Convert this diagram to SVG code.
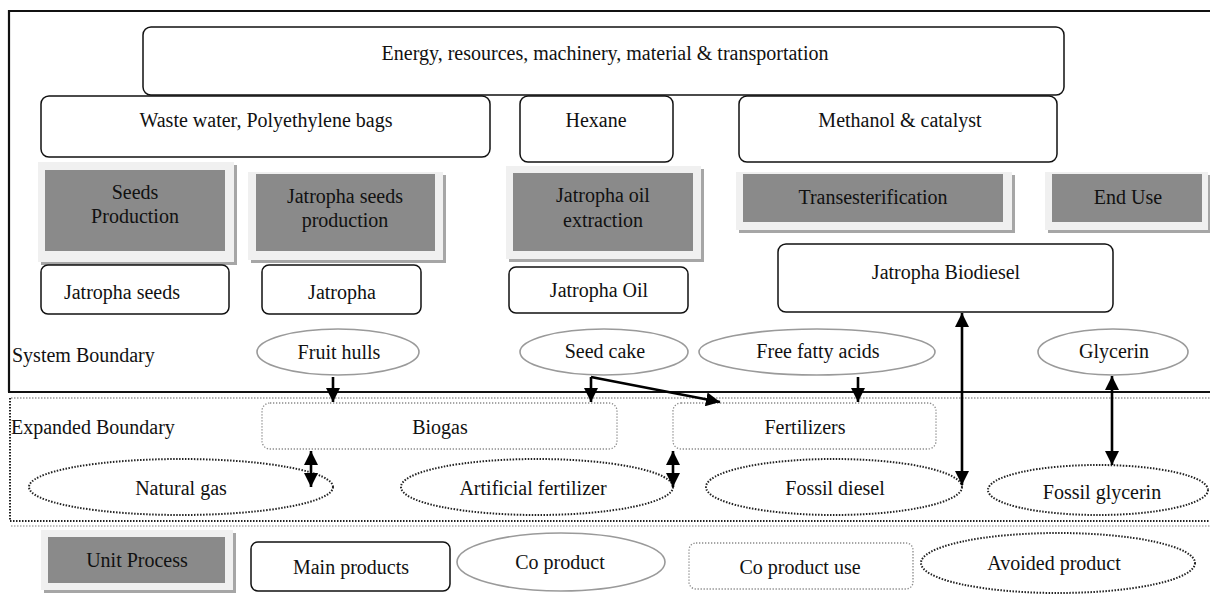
<svg xmlns="http://www.w3.org/2000/svg" width="1210" height="594" viewBox="0 0 1210 594">
<style>
text{font-family:"Liberation Serif","Times New Roman",serif;font-size:20px;fill:#111;text-anchor:middle;dominant-baseline:central}
.lt{text-anchor:start}
.box{fill:#fff;stroke:#111;stroke-width:1.5}
.sh{fill:#a6a6a6}
.fr{fill:#f0f0f0}
.up{fill:#8a8a8a}
.co{fill:#fff;stroke:#9a9a9a;stroke-width:1.6}
.cu{fill:none;stroke:#8a8a8a;stroke-width:1.3;stroke-dasharray:1.3 1.7}
.av{fill:none;stroke:#222;stroke-width:2;stroke-dasharray:1.5 1.5}
.bd{fill:none;stroke:#111;stroke-width:2.2}
.ar{fill:none;stroke:#000;stroke-width:2.6}
</style>
<defs>
<marker id="ah" markerUnits="userSpaceOnUse" markerWidth="14" markerHeight="14" viewBox="0 0 14 14" refX="14" refY="7" orient="auto-start-reverse">
<path d="M0,0 L14,7 L0,14 z" fill="#000"/>
</marker>
</defs>
<rect width="1210" height="594" fill="#fff"/>

<g id="boundaries">
<path class="bd" d="M9,392 V11 H1212"/>
<path class="bd" d="M8,392 H1212" stroke-width="2.6"/>
<path d="M11,398 H1212" fill="none" stroke="#999" stroke-width="1.6" stroke-dasharray="1.5 1.5"/>
<path d="M10,398 V521 H1212" fill="none" stroke="#222" stroke-width="2" stroke-dasharray="1.5 1.5"/>
<path d="M11,526 H1212" fill="none" stroke="#aaa" stroke-width="1.4" stroke-dasharray="1.5 1.5"/>
<text class="lt" x="12" y="355">System Boundary</text>
<text class="lt" x="11" y="427">Expanded Boundary</text>
</g>

<g id="energy"><rect class="box" x="143" y="27" width="921" height="68" rx="8"/><text x="605" y="53">Energy, resources, machinery, material &amp; transportation</text></g>
<g id="waste"><rect class="box" x="41" y="96" width="449" height="61" rx="8"/><text x="266" y="120">Waste water, Polyethylene bags</text></g>
<g id="hexane"><rect class="box" x="520" y="96" width="153" height="66" rx="8"/><text x="596" y="120">Hexane</text></g>
<g id="methanol"><rect class="box" x="739" y="96" width="318" height="66" rx="8"/><text x="900" y="120">Methanol &amp; catalyst</text></g>

<g id="seeds-production">
<rect class="sh" x="41" y="165" width="196" height="100"/><rect class="fr" x="38" y="162" width="196" height="100"/><rect class="up" x="45" y="170" width="180" height="81"/>
<text x="135" y="192">Seeds</text><text x="135" y="216">Production</text></g>
<g id="jatropha-seeds-production">
<rect class="sh" x="251" y="175" width="195" height="88"/><rect class="fr" x="248" y="172" width="195" height="88"/><rect class="up" x="256" y="174" width="179" height="77"/>
<text x="345" y="196">Jatropha seeds</text><text x="345" y="220">production</text></g>
<g id="oil-extraction">
<rect class="sh" x="509" y="169" width="195" height="93"/><rect class="fr" x="506" y="166" width="195" height="93"/><rect class="up" x="513" y="173" width="180" height="78"/>
<text x="603" y="195">Jatropha oil</text><text x="603" y="220">extraction</text></g>
<g id="transesterification">
<rect class="sh" x="739" y="175" width="276" height="58"/><rect class="fr" x="736" y="172" width="276" height="58"/><rect class="up" x="743" y="174" width="260" height="48"/>
<text x="873" y="197">Transesterification</text></g>
<g id="end-use">
<rect class="sh" x="1048" y="175" width="163" height="58"/><rect class="fr" x="1045" y="172" width="163" height="58"/><rect class="up" x="1052" y="174" width="150" height="48"/>
<text x="1128" y="197">End Use</text></g>

<g id="jatropha-seeds"><rect class="box" x="41" y="265" width="188" height="49" rx="7"/><text x="122" y="292">Jatropha seeds</text></g>
<g id="jatropha"><rect class="box" x="262" y="265" width="159" height="49" rx="7"/><text x="342" y="292">Jatropha</text></g>
<g id="jatropha-oil"><rect class="box" x="509" y="267" width="179" height="46" rx="7"/><text x="599" y="290">Jatropha Oil</text></g>
<g id="jatropha-biodiesel"><rect class="box" x="778" y="244" width="335" height="68" rx="8"/><text x="946" y="272">Jatropha Biodiesel</text></g>

<g id="fruit-hulls"><ellipse class="co" cx="338" cy="352" rx="81" ry="23"/><text x="339" y="352">Fruit hulls</text></g>
<g id="seed-cake"><ellipse class="co" cx="604" cy="352" rx="84" ry="23"/><text x="605" y="351">Seed cake</text></g>
<g id="free-fatty-acids"><ellipse class="co" cx="817" cy="352" rx="118" ry="23"/><text x="818" y="351">Free fatty acids</text></g>
<g id="glycerin"><ellipse class="co" cx="1113" cy="352" rx="75" ry="23"/><text x="1114" y="351">Glycerin</text></g>

<g id="biogas"><rect class="cu" x="262" y="403" width="355" height="46" rx="8"/><text x="440" y="427">Biogas</text></g>
<g id="fertilizers"><rect class="cu" x="673" y="403" width="263" height="46" rx="8"/><text x="805" y="427">Fertilizers</text></g>

<g id="natural-gas"><ellipse class="av" cx="181" cy="487" rx="152" ry="28"/><text x="181" y="488">Natural gas</text></g>
<g id="artificial-fertilizer"><ellipse class="av" cx="537" cy="487" rx="136" ry="28"/><text x="533" y="488">Artificial fertilizer</text></g>
<g id="fossil-diesel"><ellipse class="av" cx="834" cy="487" rx="128" ry="28"/><text x="835" y="488">Fossil diesel</text></g>
<g id="fossil-glycerin"><ellipse class="av" cx="1098" cy="490" rx="110" ry="25"/><text x="1102" y="492">Fossil glycerin</text></g>

<g id="connectors">
<path class="ar" d="M333,377 V402" marker-end="url(#ah)"/>
<path class="ar" d="M591,377 V402" marker-end="url(#ah)"/>
<path class="ar" d="M591,377 L720,402" marker-end="url(#ah)"/>
<path class="ar" d="M858,377 V402" marker-end="url(#ah)"/>
<path class="ar" d="M962,313 V485" marker-start="url(#ah)" marker-end="url(#ah)"/>
<path class="ar" d="M1112,376 V465" marker-start="url(#ah)" marker-end="url(#ah)"/>
<path class="ar" d="M311,451 V487" marker-start="url(#ah)" marker-end="url(#ah)"/>
<path class="ar" d="M673,451 V487" marker-start="url(#ah)" marker-end="url(#ah)"/>
</g>

<g id="legend-unit-process">
<rect class="sh" x="44" y="533" width="192" height="60"/><rect class="fr" x="41" y="530" width="192" height="60"/><rect class="up" x="48" y="537" width="177" height="46"/>
<text x="137" y="560">Unit Process</text></g>
<g id="legend-main-products"><rect class="box" x="251" y="542" width="199" height="49" rx="7"/><text x="351" y="567">Main products</text></g>
<g id="legend-co-product"><ellipse class="co" cx="561" cy="562" rx="104" ry="29"/><text x="560" y="562">Co product</text></g>
<g id="legend-co-product-use"><rect class="cu" x="689" y="543" width="224" height="46" rx="7"/><text x="800" y="567">Co product use</text></g>
<g id="legend-avoided-product"><ellipse class="av" cx="1058" cy="563" rx="137" ry="30"/><text x="1054" y="563">Avoided product</text></g>
</svg>
